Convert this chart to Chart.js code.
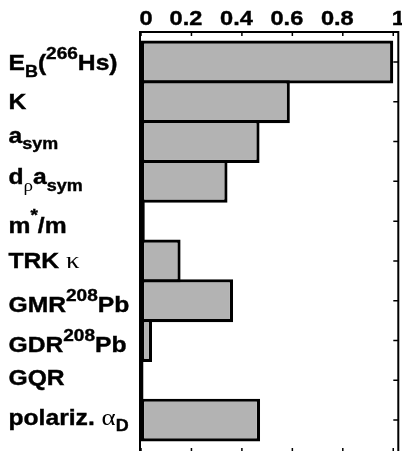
<!DOCTYPE html>
<html>
<head>
<meta charset="utf-8">
<script src="https://cdn.jsdelivr.net/npm/chart.js@4.4.0/dist/chart.umd.min.js"></script>
<style>
  html, body { margin: 0; padding: 0; background: #fff; overflow: hidden; }
  #wrap { position: relative; width: 402px; height: 451px; }
</style>
</head>
<body>
<div id="wrap"><canvas id="c" width="402" height="451"></canvas></div>
<script>
// Observables, top to bottom (_{..} subscript, ^{..} superscript)
const categories = [
  "E_{B}(^{266}Hs)",
  "K",
  "a_{sym}",
  "d_{ρ}a_{sym}",
  "m^{*}/m",
  "TRK κ",
  "GMR^{208}Pb",
  "GDR^{208}Pb",
  "GQR",
  "polariz. α_{D}"
];
// Relative weight of each observable
const weights = [1.0, 0.59, 0.47, 0.343, 0.015, 0.157, 0.365, 0.044, 0.01, 0.472];
// Top axis ticks
const xTicks = [0, 0.2, 0.4, 0.6, 0.8, 1];
const xTickLabels = ["0", "0.2", "0.4", "0.6", "0.8", "1"];

const SANS = '"Liberation Sans", Arial, Helvetica, sans-serif';
const SERIF = '"Liberation Serif", "Times New Roman", serif';
const HS = 1.12;           // horizontal stretch of the lettering

function parseLabel(s) {
  const out = [];
  const re = /([_^])\{([^}]*)\}|[^_^]+/g;
  let m;
  while ((m = re.exec(s)) !== null) {
    const mode = m[1] === '_' ? 'sub' : m[1] === '^' ? 'sup' : 'n';
    const txt = m[1] ? m[2] : m[0];
    txt.split(/([\u0370-\u03FF])/).forEach(part => {
      if (!part) return;
      out.push({ text: part, mode, greek: /^[\u0370-\u03FF]$/.test(part) });
    });
  }
  return out;
}

function segFont(seg) {
  const size = seg.mode === 'n' ? (seg.greek ? 24 : 22) : seg.mode === 'sup' ? 17 : (seg.greek ? 17 : 16);
  return seg.greek ? `${size}px ${SERIF}` : `bold ${size}px ${SANS}`;
}
function segDy(seg) {
  return seg.mode === 'sup' ? -11.5 : seg.mode === 'sub' ? 6.5 : 0;
}

function drawLabel(ctx, text, x, cy) {
  const segs = parseLabel(text);
  let top = 0, bottom = 0;
  segs.forEach(seg => {
    ctx.font = segFont(seg);
    const mt = ctx.measureText(seg.text);
    seg.w = mt.width;
    top = Math.min(top, segDy(seg) - mt.actualBoundingBoxAscent);
    bottom = Math.max(bottom, segDy(seg) + mt.actualBoundingBoxDescent);
  });
  const baseline = cy - (top + bottom) / 2;
  ctx.save();
  ctx.translate(x, baseline);
  ctx.scale(HS, 1);
  ctx.fillStyle = '#000';
  ctx.strokeStyle = '#000';
  ctx.lineWidth = 0.4;
  ctx.textAlign = 'left';
  ctx.textBaseline = 'alphabetic';
  let cx = 0;
  segs.forEach(seg => {
    ctx.font = segFont(seg);
    ctx.fillText(seg.text, cx, segDy(seg));
    if (!seg.greek) ctx.strokeText(seg.text, cx, segDy(seg));
    cx += seg.w;
  });
  ctx.restore();
}

// Frame, inward ticks, axis numbers and row labels
const framePlugin = {
  id: 'frame',
  afterDatasetsDraw(chart) {
    const { ctx, chartArea: a, scales: { x, y } } = chart;
    const L = a.left - 1, R = a.right, T = a.top - 10, B = a.bottom + 12;
    ctx.save();
    ctx.strokeStyle = '#000';
    ctx.lineWidth = 2;
    ctx.beginPath();
    ctx.moveTo(L, T); ctx.lineTo(R, T); ctx.lineTo(R, B); ctx.lineTo(L, B); ctx.closePath();
    ctx.stroke();

    ctx.lineWidth = 1.5;
    ctx.beginPath();
    xTicks.forEach(v => {
      const px = x.getPixelForValue(v);
      ctx.moveTo(px, T); ctx.lineTo(px, T + 4);
      ctx.moveTo(px, B); ctx.lineTo(px, B - 4);
    });
    categories.forEach((c, i) => {
      const py = y.getPixelForValue(i);
      ctx.moveTo(R, py); ctx.lineTo(R - 5, py);
    });
    ctx.stroke();

    ctx.fillStyle = '#000';
    ctx.lineWidth = 0.4;
    ctx.font = `bold 20.5px ${SANS}`;
    ctx.textAlign = 'center';
    ctx.textBaseline = 'alphabetic';
    xTicks.forEach((v, i) => {
      const lbl = xTickLabels[i];
      const px = x.getPixelForValue(v) + (lbl.indexOf('.') < 0 ? 5 : -5.5);
      ctx.save();
      ctx.translate(px, 25);
      ctx.scale(1.15, 1);
      ctx.fillText(lbl, 0, 0);
      ctx.strokeText(lbl, 0, 0);
      ctx.restore();
    });

    categories.forEach((c, i) => drawLabel(ctx, c, 8.5, y.getPixelForValue(i)));
    ctx.restore();
  }
};

new Chart(document.getElementById('c').getContext('2d'), {
  type: 'bar',
  data: {
    labels: categories,
    datasets: [{
      data: weights,
      backgroundColor: '#b3b3b3',
      borderColor: '#000',
      borderWidth: 3.2,
      borderSkipped: false,
      barPercentage: 1.078,
      categoryPercentage: 1,
      clip: false
    }]
  },
  options: {
    indexAxis: 'y',
    responsive: false,
    animation: false,
    devicePixelRatio: 1,
    layout: { padding: { left: 141, right: 3.7, top: 42.1, bottom: 11 } },
    plugins: { legend: { display: false }, tooltip: { enabled: false } },
    scales: {
      x: { type: 'linear', position: 'top', min: 0, max: 1.02, display: false },
      y: { type: 'category', offset: true, display: false }
    }
  },
  plugins: [framePlugin]
});
</script>
</body>
</html>
